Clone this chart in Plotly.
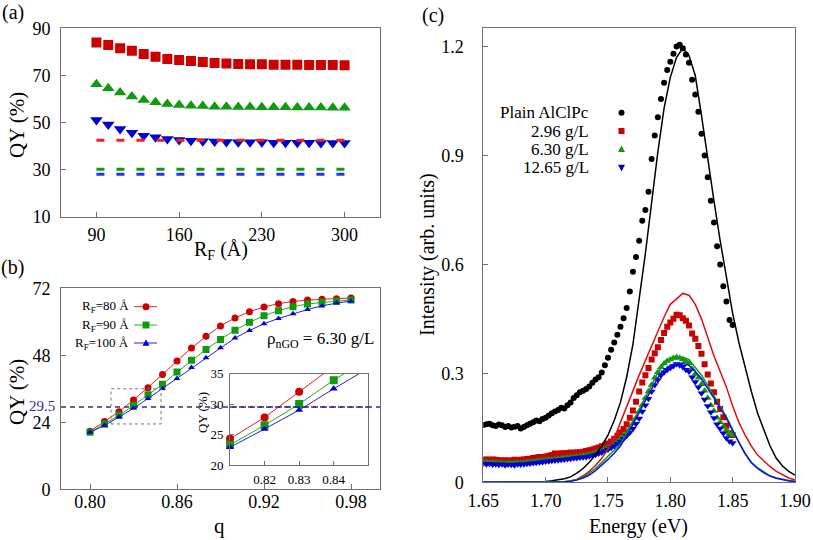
import plotly.graph_objects as go

W, H = 813, 540
FONT = '"Liberation Serif", "DejaVu Serif", "Times New Roman", Times, serif'

# ---------------- Panel (a) data ----------------
rf = [90, 100, 110, 120, 130, 140, 150, 160, 170, 180, 190, 200, 210, 220, 230, 240, 250, 260, 270, 280, 290, 300]
qy_a_red = [84.0, 82.9, 81.5, 80.5, 79.1, 77.9, 77.0, 76.5, 76.1, 75.7, 75.3, 75.0, 74.8, 74.7, 74.7, 74.5, 74.5, 74.5, 74.4, 74.4, 74.4, 74.3]
qy_a_green = [66.2, 64.5, 62.7, 61.0, 59.6, 58.6, 57.9, 57.4, 57.1, 57.0, 56.7, 56.7, 56.6, 56.6, 56.5, 56.5, 56.5, 56.4, 56.4, 56.4, 56.3, 56.3]
qy_a_blue = [51.1, 49.2, 47.2, 45.7, 44.4, 43.7, 43.0, 42.6, 42.3, 42.0, 41.9, 41.7, 41.6, 41.6, 41.6, 41.4, 41.4, 41.4, 41.4, 41.3, 41.3, 41.3]
qy_a_red_level = 42.5
qy_a_green_level = 30.1
qy_a_blue_level = 28.0

# ---------------- Panel (b) data ----------------
q = [0.80, 0.81, 0.82, 0.83, 0.84, 0.85, 0.86, 0.87, 0.88, 0.89, 0.90, 0.91, 0.92, 0.93, 0.94, 0.95, 0.96, 0.97, 0.98]
qy_rf80 = [20.8, 24.3, 27.8, 32.0, 36.4, 41.1, 46.0, 50.6, 54.8, 58.5, 61.4, 63.6, 65.3, 66.5, 67.3, 67.8, 68.1, 68.3, 68.5]
qy_rf90 = [20.4, 23.3, 26.5, 30.0, 33.9, 37.6, 42.0, 46.2, 50.1, 53.7, 57.0, 59.8, 62.2, 64.0, 65.4, 66.4, 67.0, 67.4, 67.8]
qy_rf100 = [20.4, 22.9, 25.9, 29.0, 32.5, 36.1, 39.7, 43.6, 47.1, 50.7, 54.2, 56.9, 59.3, 61.2, 62.9, 64.4, 65.7, 66.7, 67.4]
qy_target = 29.5
zoom_box_q = [0.8145, 0.849]
zoom_box_qy = [23.4, 36.0]
rf_labels = ["R<sub>F</sub>=80 Å", "R<sub>F</sub>=90 Å", "R<sub>F</sub>=100 Å"]

# ---------------- Panel (c) data ----------------
energy_pts = [1.6500, 1.6525, 1.6550, 1.6575, 1.6600, 1.6625, 1.6650, 1.6675, 1.6700, 1.6725,
              1.6750, 1.6775, 1.6800, 1.6825, 1.6850, 1.6875, 1.6900, 1.6925, 1.6950, 1.6975,
              1.7000, 1.7025, 1.7050, 1.7075, 1.7100, 1.7125, 1.7150, 1.7175, 1.7200, 1.7225,
              1.7250, 1.7275, 1.7300, 1.7325, 1.7350, 1.7375, 1.7400, 1.7425, 1.7450, 1.7475,
              1.7500, 1.7525, 1.7550, 1.7575, 1.7600, 1.7625, 1.7650, 1.7675, 1.7700, 1.7725,
              1.7750, 1.7775, 1.7800, 1.7825, 1.7850, 1.7875, 1.7900, 1.7925, 1.7950, 1.7975,
              1.8000, 1.8025, 1.8050, 1.8075, 1.8100, 1.8125, 1.8150, 1.8175, 1.8200, 1.8225,
              1.8250, 1.8275, 1.8300, 1.8325, 1.8350, 1.8375, 1.8400, 1.8425, 1.8450, 1.8475,
              1.8500]
int_plain = [0.158, 0.160, 0.161, 0.157, 0.155, 0.159, 0.157, 0.152, 0.155, 0.151,
             0.153, 0.155, 0.148, 0.152, 0.157, 0.161, 0.165, 0.170, 0.168, 0.174,
             0.178, 0.184, 0.190, 0.195, 0.199, 0.205, 0.203, 0.212, 0.220, 0.232,
             0.240, 0.248, 0.252, 0.257, 0.264, 0.274, 0.283, 0.289, 0.302, 0.322,
             0.343, 0.365, 0.385, 0.406, 0.428, 0.452, 0.480, 0.525, 0.580, 0.620,
             0.665, 0.720, 0.750, 0.800, 0.890, 0.955, 1.005, 1.055, 1.100, 1.135,
             1.158, 1.180, 1.200, 1.205, 1.195, 1.178, 1.155, 1.108, 1.068, 1.020,
             0.960, 0.900, 0.840, 0.775, 0.715, 0.650, 0.600, 0.540, 0.498, 0.447,
             0.433]
int_296 = [0.062, 0.063, 0.062, 0.063, 0.062, 0.061, 0.060, 0.061, 0.060, 0.060,
           0.062, 0.061, 0.062, 0.063, 0.064, 0.065, 0.067, 0.068, 0.070, 0.069,
           0.071, 0.073, 0.075, 0.079, 0.077, 0.080, 0.079, 0.081, 0.082, 0.081,
           0.083, 0.082, 0.084, 0.086, 0.088, 0.090, 0.093, 0.096, 0.099, 0.102,
           0.107, 0.112, 0.120, 0.128, 0.137, 0.147, 0.160, 0.178, 0.198, 0.222,
           0.250, 0.275, 0.295, 0.315, 0.338, 0.355, 0.372, 0.392, 0.411, 0.428,
           0.440, 0.450, 0.461, 0.460, 0.452, 0.445, 0.432, 0.410, 0.395, 0.375,
           0.354, 0.325, 0.297, 0.272, 0.248, 0.222, 0.202, 0.179, 0.156, 0.135,
           0.130]
int_630 = [0.055, 0.056, 0.054, 0.055, 0.054, 0.053, 0.054, 0.052, 0.053, 0.052,
           0.053, 0.054, 0.053, 0.054, 0.055, 0.056, 0.057, 0.058, 0.059, 0.060,
           0.061, 0.062, 0.063, 0.064, 0.065, 0.066, 0.067, 0.068, 0.069, 0.070,
           0.071, 0.072, 0.073, 0.075, 0.077, 0.079, 0.082, 0.085, 0.088, 0.092,
           0.096, 0.100, 0.105, 0.112, 0.120, 0.128, 0.137, 0.148, 0.162, 0.177,
           0.195, 0.213, 0.232, 0.250, 0.268, 0.288, 0.303, 0.317, 0.327, 0.334,
           0.338, 0.342, 0.344, 0.342, 0.338, 0.333, 0.328, 0.312, 0.298, 0.288,
           0.270, 0.252, 0.232, 0.212, 0.196, 0.178, 0.165, 0.153, 0.144, 0.135,
           0.130]
int_1265 = [0.052, 0.050, 0.051, 0.049, 0.050, 0.048, 0.050, 0.047, 0.049, 0.048,
            0.047, 0.050, 0.049, 0.050, 0.051, 0.052, 0.053, 0.054, 0.055, 0.056,
            0.057, 0.058, 0.059, 0.060, 0.061, 0.062, 0.063, 0.064, 0.065, 0.066,
            0.067, 0.068, 0.069, 0.070, 0.072, 0.074, 0.076, 0.079, 0.082, 0.086,
            0.090, 0.095, 0.100, 0.106, 0.112, 0.120, 0.128, 0.137, 0.148, 0.161,
            0.176, 0.195, 0.212, 0.230, 0.250, 0.268, 0.282, 0.295, 0.303, 0.310,
            0.315, 0.320, 0.326, 0.322, 0.318, 0.310, 0.305, 0.289, 0.276, 0.262,
            0.245, 0.228, 0.210, 0.193, 0.177, 0.160, 0.148, 0.135, 0.122, 0.113,
            0.108]

energy_fit = [1.650, 1.655, 1.660, 1.665, 1.670, 1.675, 1.680, 1.685, 1.690, 1.695,
              1.700, 1.705, 1.710, 1.715, 1.720, 1.725, 1.730, 1.735, 1.740, 1.745,
              1.750, 1.755, 1.760, 1.765, 1.770, 1.775, 1.780, 1.785, 1.790, 1.795,
              1.800, 1.805, 1.810, 1.815, 1.820, 1.825, 1.830, 1.835, 1.840, 1.845,
              1.850, 1.855, 1.860, 1.865, 1.870, 1.875, 1.880, 1.885, 1.890, 1.895,
              1.900]
fit_plain = [0.000, 0.000, 0.000, 0.000, 0.000, 0.000, 0.000, 0.000, 0.001, 0.001,
             0.002, 0.004, 0.006, 0.010, 0.015, 0.025, 0.038, 0.055, 0.075, 0.100,
             0.130, 0.170, 0.220, 0.290, 0.380, 0.500, 0.630, 0.770, 0.910, 1.030,
             1.115, 1.170, 1.195, 1.175, 1.120, 1.010, 0.890, 0.775, 0.665, 0.560,
             0.465, 0.385, 0.315, 0.250, 0.190, 0.145, 0.100, 0.066, 0.045, 0.030,
             0.020]
fit_296 = [0.000, 0.000, 0.000, 0.000, 0.000, 0.000, 0.000, 0.000, 0.000, 0.000,
           0.000, 0.000, 0.000, 0.001, 0.003, 0.008, 0.018, 0.030, 0.046, 0.066,
           0.092, 0.120, 0.165, 0.210, 0.255, 0.295, 0.335, 0.373, 0.415, 0.455,
           0.490, 0.505, 0.520, 0.515, 0.490, 0.450, 0.398, 0.348, 0.305, 0.262,
           0.210, 0.165, 0.130, 0.100, 0.075, 0.058, 0.043, 0.030, 0.020, 0.012,
           0.006]
fit_630 = [0.000, 0.000, 0.000, 0.000, 0.000, 0.000, 0.000, 0.000, 0.000, 0.000,
           0.000, 0.000, 0.001, 0.002, 0.004, 0.008, 0.015, 0.025, 0.038, 0.055,
           0.072, 0.088, 0.105, 0.135, 0.165, 0.200, 0.235, 0.270, 0.302, 0.325,
           0.338, 0.343, 0.345, 0.338, 0.318, 0.295, 0.267, 0.237, 0.208, 0.180,
           0.145, 0.110, 0.080, 0.055, 0.040, 0.028, 0.018, 0.012, 0.007, 0.004,
           0.002]
fit_1265 = [0.000, 0.000, 0.000, 0.000, 0.000, 0.000, 0.000, 0.000, 0.000, 0.000,
            0.000, 0.000, 0.000, 0.001, 0.003, 0.006, 0.012, 0.020, 0.032, 0.047,
            0.063, 0.080, 0.100, 0.128, 0.158, 0.192, 0.225, 0.258, 0.288, 0.310,
            0.322, 0.327, 0.328, 0.322, 0.305, 0.285, 0.260, 0.232, 0.204, 0.176,
            0.142, 0.108, 0.078, 0.054, 0.038, 0.026, 0.017, 0.011, 0.007, 0.004,
            0.002]
c_labels = ["Plain AlClPc", "2.96 g/L", "6.30 g/L", "12.65 g/L"]

# ---------------- colours ----------------
RED_M, GREEN_M, BLUE_M = "#cc0000", "#109a10", "#0000d0"
RED_L, GREEN_L, BLUE_L = "#e02020", "#20b020", "#2020e0"
PURPLE = "#3a2a8c"
AXC = "#707070"

fig = go.Figure()

# Panel (a)
fig.add_trace(go.Scatter(x=rf, y=qy_a_red, mode="markers", xaxis="x", yaxis="y",
                         marker=dict(symbol="square", size=10, color=RED_M)))
fig.add_trace(go.Scatter(x=rf, y=qy_a_green, mode="markers", xaxis="x", yaxis="y",
                         marker=dict(symbol="triangle-up", size=11, color=GREEN_M)))
fig.add_trace(go.Scatter(x=rf, y=qy_a_blue, mode="markers", xaxis="x", yaxis="y",
                         marker=dict(symbol="triangle-down", size=11, color=BLUE_M)))
for lvl, col in [(qy_a_red_level, "#ee2222"), (qy_a_green_level, GREEN_M), (qy_a_blue_level, "#2233ee")]:
    fig.add_trace(go.Scatter(x=[rf[0], rf[-1]], y=[lvl, lvl], mode="lines", xaxis="x", yaxis="y",
                             line=dict(color=col, width=3, dash="8px,12px")))

# Panel (b)
for ys, lc, mc, sym, sz in [(qy_rf80, RED_L, RED_M, "circle", 7),
                            (qy_rf90, GREEN_L, GREEN_M, "square", 7),
                            (qy_rf100, BLUE_L, BLUE_M, "triangle-up", 6)]:
    fig.add_trace(go.Scatter(x=q, y=ys, mode="lines+markers", xaxis="x2", yaxis="y2",
                             line=dict(color=lc, width=1),
                             marker=dict(symbol=sym, size=sz, color=mc)))

# Inset
for ys, lc, mc, sym, sz in [(qy_rf80, RED_L, RED_M, "circle", 8),
                            (qy_rf90, GREEN_L, GREEN_M, "square", 8),
                            (qy_rf100, BLUE_L, BLUE_M, "triangle-up", 7)]:
    fig.add_trace(go.Scatter(x=q, y=ys, mode="lines", xaxis="x3", yaxis="y3",
                             line=dict(color=lc, width=1)))
    fig.add_trace(go.Scatter(x=q[1:5], y=ys[1:5], mode="markers", xaxis="x3", yaxis="y3",
                             cliponaxis=False, marker=dict(symbol=sym, size=sz, color=mc)))

# Panel (c)
fig.add_trace(go.Scatter(x=energy_pts, y=int_plain, mode="markers", xaxis="x4", yaxis="y4",
                         marker=dict(symbol="circle", size=6, color="black")))
fig.add_trace(go.Scatter(x=energy_pts, y=int_296, mode="markers", xaxis="x4", yaxis="y4",
                         marker=dict(symbol="square", size=6, color=RED_M)))
fig.add_trace(go.Scatter(x=energy_pts, y=int_630, mode="markers", xaxis="x4", yaxis="y4",
                         marker=dict(symbol="triangle-up", size=7, color=GREEN_M)))
fig.add_trace(go.Scatter(x=energy_pts, y=int_1265, mode="markers", xaxis="x4", yaxis="y4",
                         marker=dict(symbol="triangle-down", size=7, color=BLUE_M)))
for ys, col in [(fit_plain, "black"), (fit_296, "#dd1111"), (fit_630, "#119911"), (fit_1265, "#1111dd")]:
    fig.add_trace(go.Scatter(x=energy_fit, y=ys, mode="lines", xaxis="x4", yaxis="y4",
                             line=dict(color=col, width=1.5)))


def px(x):
    return x / W


def py(y):
    return 1 - y / H


def axis_style(size=18, ticklen=5):
    return dict(showline=True, mirror=True, linecolor=AXC, linewidth=1, ticks="inside",
                ticklen=ticklen, tickcolor=AXC, showgrid=False, zeroline=False, automargin=False,
                tickfont=dict(family=FONT, size=size, color="black"))


fig.update_layout(
    width=W, height=H, autosize=False, showlegend=False,
    margin=dict(l=0, r=0, t=0, b=0, pad=0, autoexpand=False),
    paper_bgcolor="white", plot_bgcolor="rgba(0,0,0,0)",
    font=dict(family=FONT),
    xaxis=dict(domain=[px(61), px(380)], anchor="y", range=[60, 330],
               tickvals=[90, 160, 230, 300], ticklabelstandoff=2, **axis_style()),
    yaxis=dict(domain=[py(216.7), py(28.3)], anchor="x", range=[10, 90],
               tickvals=[10, 30, 50, 70, 90], ticklabelstandoff=6, **axis_style()),
    xaxis2=dict(domain=[px(61), px(380)], anchor="y2", range=[0.78, 1.0],
                tickvals=[0.80, 0.86, 0.92, 0.98], tickformat=".2f", ticklabelstandoff=-4, **axis_style()),
    yaxis2=dict(domain=[py(489.3), py(288.3)], anchor="x2", range=[0, 72],
                tickvals=[0, 24, 48, 72], ticklabelstandoff=6, **axis_style()),
    xaxis3=dict(domain=[px(230), px(368.3)], anchor="y3", range=[0.81, 0.85],
                tickvals=[0.82, 0.83, 0.84], tickformat=".2f", ticklabelstandoff=2, **axis_style(13, 4)),
    yaxis3=dict(domain=[py(465), py(373.5)], anchor="x3", range=[20, 35],
                tickvals=[20, 25, 30, 35], ticklabelstandoff=3, **axis_style(13, 4)),
    xaxis4=dict(domain=[px(483.3), px(795)], anchor="y4", range=[1.65, 1.90],
                tickvals=[1.65, 1.70, 1.75, 1.80, 1.85, 1.90], tickformat=".2f", ticklabelstandoff=2, **axis_style()),
    yaxis4=dict(domain=[py(482.3), py(28.3)], anchor="x4", range=[0, 1.25],
                tickvals=[0, 0.3, 0.6, 0.9, 1.2], ticktext=["0", "0.3", "0.6", "0.9", "1.2"],
                ticklabelstandoff=15, **axis_style()),
)

shapes = []
# target QY line in (b) and inset
shapes.append(dict(type="line", xref="x2 domain", yref="y2", x0=0, x1=1, y0=qy_target, y1=qy_target,
                   line=dict(color=PURPLE, width=1.5, dash="5px,4px")))
shapes.append(dict(type="line", xref="x3 domain", yref="y3", x0=0, x1=1, y0=qy_target, y1=qy_target,
                   line=dict(color=PURPLE, width=1.5, dash="5px,4px")))
shapes.append(dict(type="rect", xref="x2", yref="y2", x0=zoom_box_q[0], x1=zoom_box_q[1],
                   y0=zoom_box_qy[0], y1=zoom_box_qy[1], line=dict(color="#777777", width=1, dash="dot")))


def key_marker(kind, xpix, ypix, s, color):
    d = dict(xref="paper", yref="paper", xsizemode="pixel", ysizemode="pixel",
             xanchor=px(xpix), yanchor=py(ypix), fillcolor=color, line=dict(width=0), layer="above")
    if kind == "circle":
        d.update(type="circle", x0=-s, x1=s, y0=-s, y1=s)
    elif kind == "square":
        d.update(type="rect", x0=-s, x1=s, y0=-s, y1=s)
    elif kind == "up":
        d.update(type="path", path=f"M{-s},{-0.8*s} L{s},{-0.8*s} L0,{1.1*s} Z")
    else:
        d.update(type="path", path=f"M{-s},{0.8*s} L{s},{0.8*s} L0,{-1.1*s} Z")
    return d


annotations = []


def text(t, x, y, size, xanchor="center", color="black", angle=0):
    annotations.append(dict(text=t, x=px(x), y=py(y), xref="paper", yref="paper", showarrow=False,
                            xanchor=xanchor, yanchor="middle", textangle=angle,
                            font=dict(family=FONT, size=size, color=color)))


# (b) legend
rows_b = [306.7, 325.0, 343.0]
for lab, yy, lc, mc, kind in zip(rf_labels, rows_b, [RED_L, GREEN_L, BLUE_L], [RED_M, GREEN_M, BLUE_M],
                                 ["circle", "square", "up"]):
    text(lab, 131, yy, 13, xanchor="right")
    shapes.append(dict(type="line", xref="paper", yref="paper", x0=px(134), x1=px(157), y0=py(yy), y1=py(yy),
                       line=dict(color=lc, width=1)))
    shapes.append(key_marker(kind, 146, yy, 3.5, mc))

# (c) legend
rows_c = [112.7, 131.0, 149.3, 167.6]
for lab, yy, mc, kind, s in zip(c_labels, rows_c, ["black", RED_M, GREEN_M, BLUE_M],
                                ["circle", "square", "up", "down"], [3, 3, 3.5, 3.5]):
    text(lab, 591, yy, 17, xanchor="right")
    shapes.append(key_marker(kind, 621.5, yy, s, mc))

# panel labels and axis titles
text("(a)", 13, 13, 20)
text("(b)", 13, 268, 20)
text("(c)", 433, 15, 20)
text("QY (%)", 17, 125, 21, angle=-90)
text("R<sub>F</sub> (Å)", 221, 250, 20)
text("QY (%)", 17, 392, 21, angle=-90)
text("q", 219, 526, 21)
text("29.5", 57, 405.5, 15, xanchor="right", color=PURPLE)
text("ρ<sub>nGO</sub> = 6.30 g/L", 265, 340, 17, xanchor="left")
text("QY (%)", 202, 413, 13, angle=-90)
text("Intensity (arb. units)", 427, 255, 20, angle=-90)
text("Energy (eV)", 638, 526, 20)

fig.update_layout(shapes=shapes, annotations=annotations)
fig.write_html("out.html", config={"displayModeBar": False, "staticPlot": True},
               post_script="document.body.style.margin='0';document.body.style.padding='0';")
